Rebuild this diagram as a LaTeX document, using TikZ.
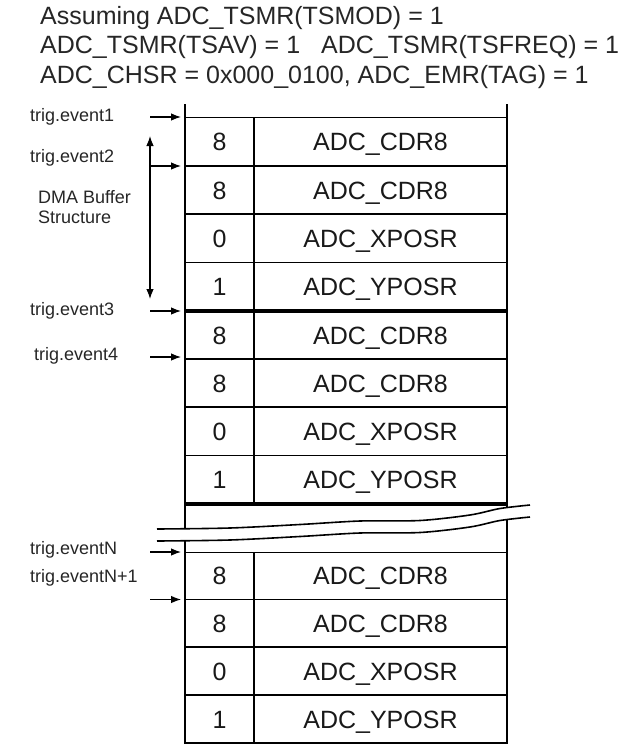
\documentclass[tikz,border=0pt]{standalone}
\usepackage{fontspec}
\setmainfont{Liberation Sans}
\usetikzlibrary{arrows.meta}
\begin{document}
\begin{tikzpicture}[x=1pt,y=-1pt,
  border/.style={line width=1.8pt},
  rowline/.style={line width=1.4pt},
  thinline/.style={line width=0.9pt},
  sepline/.style={line width=4.5pt},
  trig/.style={-{Latex[length=10pt,width=7.5pt]}, line width=1.1pt},
  dblarrow/.style={{Latex[length=10pt,width=7.5pt]}-{Latex[length=10pt,width=7.5pt]}, line width=1.1pt},
  lbl/.style={font=\fontsize{18}{20}\selectfont, anchor=west, inner sep=0pt, text=black!85},
  cell/.style={font=\fontsize{25}{30}\selectfont, inner sep=0pt, anchor=base, text=black!90},
  hdr/.style={font=\fontsize{25}{30}\selectfont, anchor=base west, inner sep=0pt, text=black!85}]
\useasboundingbox (0,0) rectangle (634,744);

% header
\node[hdr] (h1) at (40,24) {Assuming ADC\_TSMR(TSMOD) = 1};
\node[hdr] (h2) at (40,53.5) {ADC\_TSMR(TSAV) = 1\hspace{14pt} ADC\_TSMR(TSFREQ) = 1};
\node[hdr] (h3) at (40,83) {ADC\_CHSR = 0x000\_0100, ADC\_EMR(TAG) = 1};

% outer borders
\draw[border] (185,104) -- (185,743) -- (507,743) -- (507,104);
% column divider
\draw[rowline] (254,117) -- (254,504);
\draw[rowline] (254,552) -- (254,743);

% thin top lines
\draw[thinline] (185,117) -- (507,117);
\draw[thinline] (185,552) -- (507,552);

% row lines
\foreach \y in {166,214,262.5,359,407,455.5,599.5,647,695}
  \draw[rowline] (185,\y) -- (507,\y);
% thick separators
\draw[sepline] (185,311) -- (507,311);
\draw[sepline] (185,504) -- (507,504);

% cell texts (baseline = row centre + 9)
\foreach \t/\n/\name [count=\i] in {150.5/8/ADC\_CDR8, 199/8/ADC\_CDR8, 247.2/0/ADC\_XPOSR, 295.7/1/ADC\_YPOSR,
  344/8/ADC\_CDR8, 392/8/ADC\_CDR8, 440.2/0/ADC\_XPOSR, 488.7/1/ADC\_YPOSR,
  584.7/8/ADC\_CDR8, 632.2/8/ADC\_CDR8, 680/0/ADC\_XPOSR, 728/1/ADC\_YPOSR} {
  \node[cell] (n\i) at (219.5,\t) {\n};
  \node[cell] (c\i) at (380.5,\t) {\name};
}

% break
\fill[white] plot[smooth] coordinates {(157,529) (230,528) (300,524.5) (360,521) (420,520.5) (470,515) (500,508.5) (530,505)}
  -- plot[smooth] coordinates {(530,517) (500,520.5) (470,527) (420,532.5) (360,533) (300,536.5) (230,540) (157,541)} -- cycle;
\draw[line width=1.6pt] plot[smooth] coordinates {(157,529) (230,528) (300,524.5) (360,521) (420,520.5) (470,515) (500,508.5) (530,505)};
\draw[line width=1.6pt] plot[smooth] coordinates {(157,541) (230,540) (300,536.5) (360,533) (420,532.5) (470,527) (500,520.5) (530,517)};

% labels
\node[lbl] (t1) at (30,117) {trig.event1};
\node[lbl] (t2) at (30,158) {trig.event2};
\node[lbl, align=left] (dma) at (38,207) {DMA Buffer\\Structure};
\node[lbl] (t3) at (30,311) {trig.event3};
\node[lbl] (t4) at (34,356) {trig.event4};
\node[lbl] (tN) at (30,550) {trig.eventN};
\node[lbl] (tN1) at (30,578) {trig.eventN+1};

% arrows
\foreach \nm/\y in {a1/117,a2/166,a3/311,a4/357,aN/552,aN1/599.5} {
  \coordinate (\nm s) at (150,\y);
  \coordinate (\nm e) at (181,\y);
  \draw[trig] (\nm s) -- (\nm e);
}
\coordinate (dtop) at (150,136);
\coordinate (dbot) at (150,299);
\draw[dblarrow] (dtop) -- (dbot);
\end{tikzpicture}
\end{document}
